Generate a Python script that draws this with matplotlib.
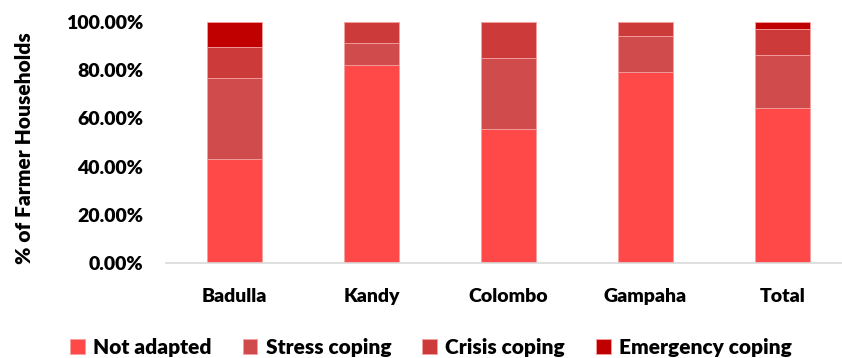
import numpy as np
import matplotlib.pyplot as plt
from matplotlib.ticker import FuncFormatter

plt.rcParams['font.family'] = ['Lato', 'DejaVu Sans']
plt.rcParams['font.weight'] = 'heavy'

districts = ['Badulla', 'Kandy', 'Colombo', 'Gampaha', 'Total']
not_adapted = [43.2, 82.0, 55.6, 79.1, 64.2]
stress_coping = [33.4, 9.3, 29.3, 15.2, 22.1]
crisis_coping = [12.9, 8.7, 15.1, 5.7, 10.8]
emergency_coping = [10.5, 0.0, 0.0, 0.0, 2.9]

series = [
    ('Not adapted', not_adapted, '#FF4848'),
    ('Stress coping', stress_coping, '#D04B4B'),
    ('Crisis coping', crisis_coping, '#CC3A3A'),
    ('Emergency coping', emergency_coping, '#C00000'),
]

fig = plt.figure(figsize=(8.42, 3.58), dpi=100)
ax = fig.add_axes([166 / 842, 1 - 263 / 358, 676 / 842, 241 / 358])

x = np.arange(len(districts))
bottom = np.zeros(len(districts))
for name, vals, col in series:
    vals = np.array(vals)
    ax.bar(x, vals, width=0.4, bottom=bottom, color=col, label=name,
           edgecolor='#F5A0A0', linewidth=0.6)
    bottom += vals

ax.set_xlim(-0.5, (842 - 234.5) / 137)
ax.set_ylim(0, 100)
ax.set_yticks(np.arange(0, 101, 20))
ax.yaxis.set_major_formatter(FuncFormatter(lambda v, p: f'{v:.2f}%'))
ax.set_xticks(x)
ax.set_xticklabels(districts)
ax.tick_params(axis='both', length=0, labelsize=14)
ax.tick_params(axis='x', pad=18)
ax.tick_params(axis='y', pad=16.5)
for s in ['top', 'right', 'left']:
    ax.spines[s].set_visible(False)
ax.spines['bottom'].set_color('#D9D9D9')
ax.spines['bottom'].set_linewidth(1.2)

ax.set_ylabel('% of Farmer Households', fontsize=15, fontweight='heavy')
ax.yaxis.set_label_coords(-0.195, 0.477)

fig.legend(loc='center', bbox_to_anchor=(0.512, 0.03), ncol=4, frameon=False,
           fontsize=15, handlelength=0.7, handleheight=0.7, handletextpad=0.4,
           columnspacing=1.5)

fig.savefig('out.png', dpi=100)
plt.close(fig)
